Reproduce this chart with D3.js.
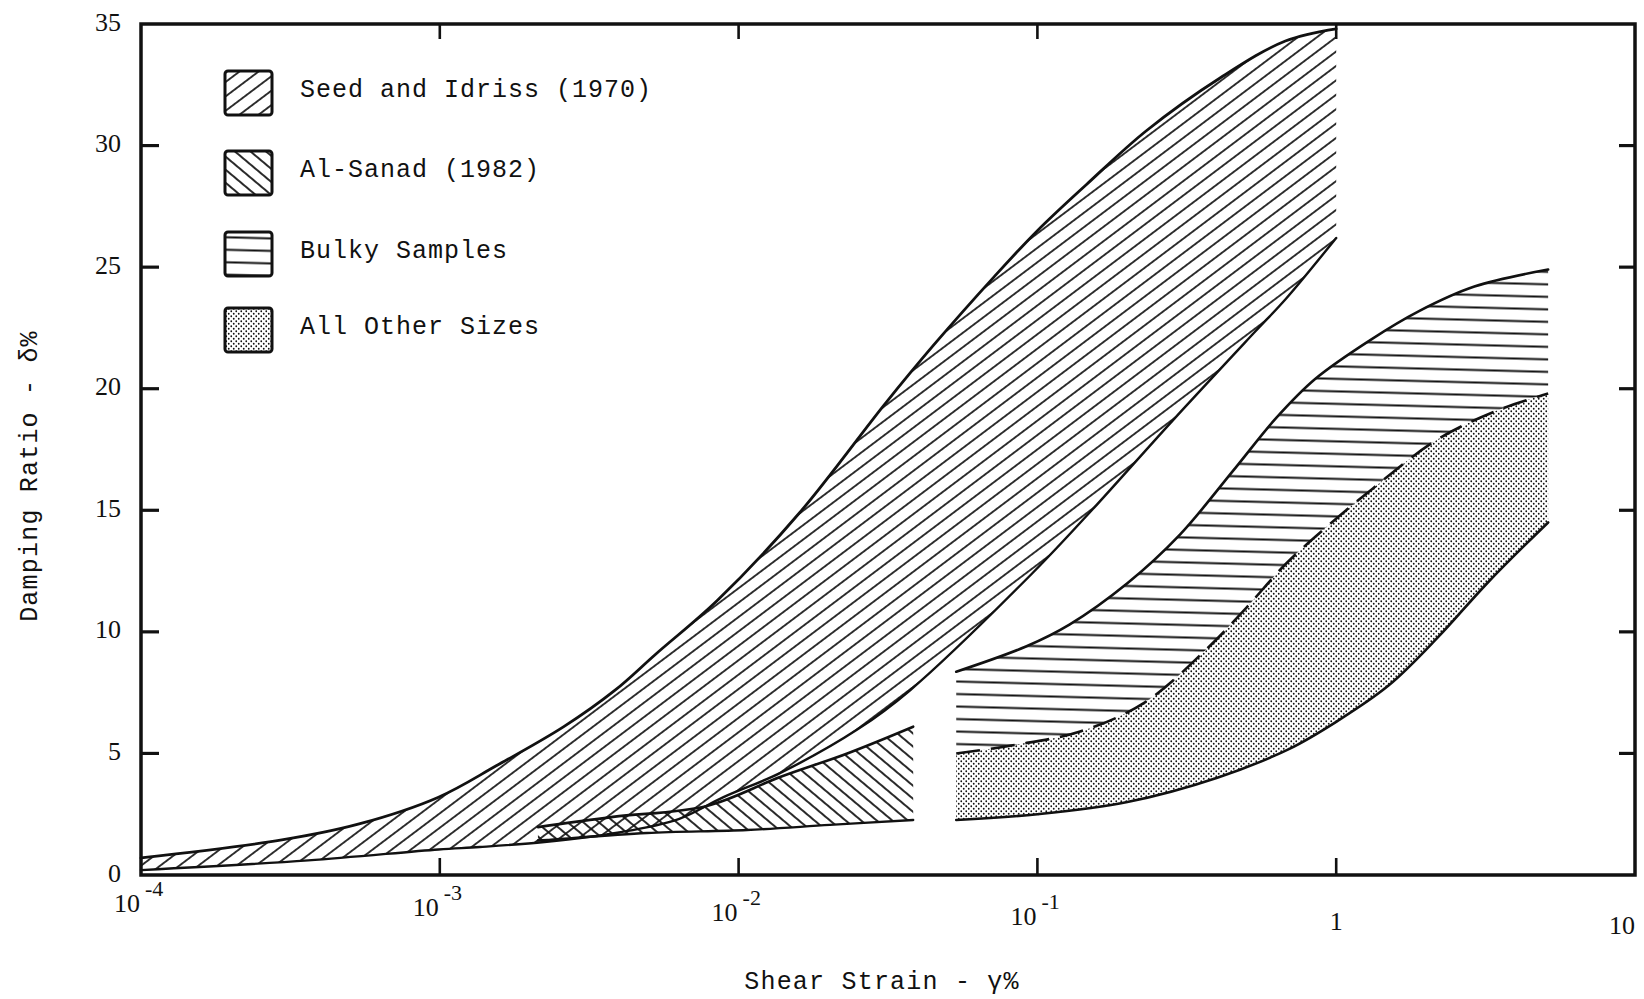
<!DOCTYPE html>
<html>
<head>
<meta charset="utf-8">
<script src="https://cdn.jsdelivr.net/npm/d3@7"></script>
<style>
  html, body { margin: 0; padding: 0; background: #fff; }
  svg { display: block; }
</style>
</head>
<body>
<svg id="chart" width="1644" height="999"></svg>
<script>
// Damping ratio of sands versus shear strain: literature bands and test results.
// Each band edge is a list of [shear strain %, damping ratio %] pairs.

const seedUpper = [
  [0.0001, 0.7], [0.000296, 1.44], [0.000537, 2.1], [0.00099, 3.2], [0.00155, 4.5],
  [0.0026, 6.1], [0.00386, 7.6], [0.0053, 9.1], [0.0085, 11.3], [0.016, 14.9],
  [0.031, 19.4], [0.045, 21.8], [0.0716, 24.6], [0.1, 26.5], [0.146, 28.4],
  [0.231, 30.6], [0.411, 32.8], [0.676, 34.3], [1.0, 34.8]
];
const seedLower = [
  [0.0001, 0.2], [0.000363, 0.6], [0.00099, 1.05], [0.00136, 1.15], [0.00224, 1.36],
  [0.00398, 1.75], [0.0063, 2.3], [0.0089, 3.2], [0.0138, 4.2], [0.0251, 6.0],
  [0.0375, 7.6], [0.096, 12.4], [0.152, 15.0], [0.284, 18.7],
  [0.531, 22.3], [0.679, 23.7], [1.0, 26.2]
];

const sanadUpper = [
  [0.00213, 1.97], [0.0038, 2.39], [0.00783, 2.84], [0.01377, 4.03],
  [0.0231, 5.0], [0.0384, 6.1]
];
const sanadLower = [
  [0.00213, 1.42], [0.00229, 1.44], [0.00493, 1.73], [0.01067, 1.85],
  [0.0202, 2.06], [0.0384, 2.26]
];

const bulkyUpper = [
  [0.0535, 8.36], [0.0916, 9.4], [0.128, 10.3], [0.2, 12.0], [0.3, 14.0],
  [0.45, 16.6], [0.63, 18.8], [0.85, 20.4], [1.3, 22.0], [1.9, 23.2],
  [2.9, 24.2], [5.12, 24.9]
];
// Shared edge: lower edge of the bulky band, upper edge of the other sizes
const splitEdge = [
  [0.0535, 5.0], [0.0841, 5.35], [0.139, 5.9], [0.229, 7.1], [0.376, 9.4],
  [0.501, 11.0], [0.679, 12.8], [0.946, 14.4], [1.327, 15.9], [2.173, 17.9],
  [3.45, 19.1], [5.12, 19.8]
];
const otherLower = [
  [0.0535, 2.26], [0.1, 2.5], [0.2, 3.0], [0.4, 4.0], [0.7, 5.2],
  [1.0, 6.3], [1.5, 7.8], [2.2, 9.8], [3.2, 12.0], [5.12, 14.5]
];

const xTicks = [0.0001, 0.001, 0.01, 0.1, 1, 10];
const xTickBase = ["10", "10", "10", "10", "1", "10"];
const xTickExp = ["-4", "-3", "-2", "-1", "", ""];
const yTicks = [0, 5, 10, 15, 20, 25, 30, 35];

const legendLabels = ["Seed and Idriss (1970)", "Al-Sanad (1982)", "Bulky Samples", "All Other Sizes"];
const legendFills = ["hatch-seed", "hatch-sanad", "hatch-bulky", "dots-other"];

const svg = d3.select("#chart");
const plotLeft = 141, plotRight = 1635, plotTop = 24, plotBottom = 875;

const x = d3.scaleLog().domain([0.0001, 10]).range([plotLeft, plotRight]);
const y = d3.scaleLinear().domain([0, 35]).range([plotBottom, plotTop]);

const ink = "#111";
const mono = "'Liberation Mono', 'DejaVu Sans Mono', monospace";
const serif = "'Liberation Serif', 'DejaVu Serif', serif";

// ---- fill patterns ----
const defs = svg.append("defs");
function hatch(id, angle, spacing, width) {
  const p = defs.append("pattern")
    .attr("id", id)
    .attr("patternUnits", "userSpaceOnUse")
    .attr("width", spacing).attr("height", spacing)
    .attr("patternTransform", `rotate(${angle})`);
  p.append("line")
    .attr("x1", -1).attr("x2", spacing + 1)
    .attr("y1", spacing / 2).attr("y2", spacing / 2)
    .attr("stroke", ink).attr("stroke-width", width);
}
hatch("hatch-seed", -37, 11.5, 1.7);
hatch("hatch-sanad", 40, 10, 1.8);
hatch("hatch-bulky", 1.5, 12.5, 2.0);

const dots = defs.append("pattern")
  .attr("id", "dots-other")
  .attr("patternUnits", "userSpaceOnUse")
  .attr("width", 5).attr("height", 5);
dots.append("circle").attr("cx", 1.25).attr("cy", 1.25).attr("r", 0.9).attr("fill", ink);
dots.append("circle").attr("cx", 3.75).attr("cy", 3.75).attr("r", 0.9).attr("fill", ink);

// ---- bands ----
const line = d3.line()
  .x(d => x(d[0]))
  .y(d => y(d[1]))
  .curve(d3.curveCatmullRom.alpha(0.5));

function bandPath(upper, lower) {
  const a = line(upper);
  const b = line(lower.slice().reverse());
  return a + "L" + b.slice(1) + "Z";
}

const bands = svg.append("g");
bands.append("path").attr("d", bandPath(seedUpper, seedLower)).attr("fill", "url(#hatch-seed)");
bands.append("path").attr("d", bandPath(sanadUpper, sanadLower)).attr("fill", "url(#hatch-sanad)");
bands.append("path").attr("d", bandPath(bulkyUpper, splitEdge)).attr("fill", "url(#hatch-bulky)");
bands.append("path").attr("d", bandPath(splitEdge, otherLower)).attr("fill", "url(#dots-other)");

const edges = svg.append("g").attr("fill", "none").attr("stroke", ink)
  .attr("stroke-linejoin", "round").attr("stroke-linecap", "round");
edges.append("path").attr("d", line(seedUpper)).attr("stroke-width", 2.8);
edges.append("path").attr("d", line(seedLower)).attr("stroke-width", 2.4);
edges.append("path").attr("d", line(sanadUpper)).attr("stroke-width", 2.6);
edges.append("path").attr("d", line(sanadLower)).attr("stroke-width", 2.4);
edges.append("path").attr("d", line(bulkyUpper)).attr("stroke-width", 2.6);
edges.append("path").attr("d", line(splitEdge)).attr("stroke-width", 2.6)
  .attr("stroke-dasharray", "24,11").attr("stroke-linecap", "butt");
edges.append("path").attr("d", line(otherLower)).attr("stroke-width", 2.6);

// ---- frame and ticks ----
const frame = svg.append("g").attr("stroke", ink).attr("fill", "none");
frame.append("rect")
  .attr("x", plotLeft).attr("y", plotTop)
  .attr("width", plotRight - plotLeft).attr("height", plotBottom - plotTop)
  .attr("stroke-width", 3.5);

const innerY = yTicks.filter(v => v > 0 && v < 35);
frame.selectAll(".ytl").data(innerY).join("line")
  .attr("x1", plotLeft).attr("x2", plotLeft + 18)
  .attr("y1", d => y(d)).attr("y2", d => y(d))
  .attr("stroke-width", 3.2);
frame.selectAll(".ytr").data(innerY).join("line")
  .attr("x1", plotRight - 16).attr("x2", plotRight)
  .attr("y1", d => y(d)).attr("y2", d => y(d))
  .attr("stroke-width", 3.2);

const innerX = xTicks.filter(v => v > 0.0001 && v < 10);
frame.selectAll(".xtb").data(innerX).join("line")
  .attr("x1", d => x(d)).attr("x2", d => x(d))
  .attr("y1", plotBottom).attr("y2", plotBottom - 17)
  .attr("stroke-width", 2.6);
frame.selectAll(".xtt").data(innerX).join("line")
  .attr("x1", d => x(d)).attr("x2", d => x(d))
  .attr("y1", plotTop).attr("y2", plotTop + 15)
  .attr("stroke-width", 2.6);

// ---- tick labels ----
const labels = svg.append("g").attr("fill", ink);
labels.selectAll(".yl").data(yTicks).join("text")
  .attr("x", 121).attr("y", d => y(d) + 6.5)
  .attr("text-anchor", "end")
  .attr("font-family", serif).attr("font-size", 26)
  .text(d => d);

xTicks.forEach((v, i) => {
  const tx = x(v);
  const base = 912 + 4.4 * i;
  const hasExp = xTickExp[i] !== "";
  const anchor = hasExp ? "end" : (xTickBase[i] === "1" ? "middle" : "end");
  labels.append("text")
    .attr("x", hasExp ? tx - 1 : tx)
    .attr("y", base)
    .attr("text-anchor", anchor)
    .attr("font-family", serif).attr("font-size", 26)
    .text(xTickBase[i]);
  if (hasExp) {
    labels.append("text")
      .attr("x", tx + 4)
      .attr("y", base - 16)
      .attr("font-family", serif).attr("font-size", 22)
      .text(xTickExp[i]);
  }
});

// ---- axis titles ----
svg.append("text")
  .attr("transform", "translate(29,476) rotate(-90)")
  .attr("text-anchor", "middle").attr("dy", "0.32em")
  .attr("font-family", mono).attr("font-size", 25).attr("letter-spacing", 1.2)
  .attr("fill", ink)
  .text("Damping Ratio - δ%");

svg.append("text")
  .attr("x", 882).attr("y", 989)
  .attr("text-anchor", "middle")
  .attr("font-family", mono).attr("font-size", 25).attr("letter-spacing", 1.2)
  .attr("fill", ink)
  .text("Shear Strain - γ%");

// ---- legend ----
const legendCenters = [93, 173, 254, 330];
const legend = svg.append("g");
legendLabels.forEach((lab, i) => {
  const cy = legendCenters[i];
  legend.append("rect")
    .attr("x", 225).attr("y", cy - 22)
    .attr("width", 47).attr("height", 44)
    .attr("rx", 3)
    .attr("fill", "#fff");
  legend.append("rect")
    .attr("x", 225).attr("y", cy - 22)
    .attr("width", 47).attr("height", 44)
    .attr("rx", 3)
    .attr("fill", `url(#${legendFills[i]})`)
    .attr("stroke", ink).attr("stroke-width", 3);
  legend.append("text")
    .attr("x", 300).attr("y", cy - 4).attr("dy", "0.32em")
    .attr("font-family", mono).attr("font-size", 25).attr("letter-spacing", 1)
    .attr("fill", ink)
    .text(lab);
});
</script>
</body>
</html>
